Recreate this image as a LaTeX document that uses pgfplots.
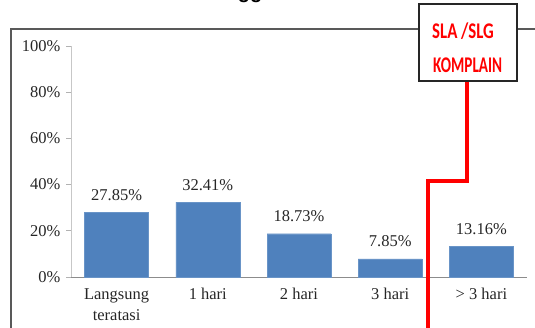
\documentclass[border=0pt]{standalone}
\usepackage{pgfplots}
\pgfplotsset{compat=1.18}
\usepackage{fontspec}
\setmainfont{Liberation Serif}
\newfontfamily\carlito{Carlito}
\newfontfamily\lsans{Liberation Sans}
\definecolor{barblue}{HTML}{4F81BD}
\definecolor{framegray}{HTML}{595959}
\definecolor{txt}{HTML}{262626}
\begin{document}
\begin{tikzpicture}[x=1pt,y=1pt]
\useasboundingbox (0,0) rectangle (535,-328);
\clip (0,0) rectangle (535,-328);
\node[anchor=base, font=\lsans\bfseries\fontsize{20}{24}\selectfont, inner sep=0] at (250,1) {gg};
\draw[color=framegray, line width=1.3pt] (11,-345) -- (11,-29) -- (550,-29);
\begin{axis}[
  at={(71pt,-277pt)}, anchor=south west, scale only axis,
  width=456pt, height=231pt,
  ymin=0, ymax=100, xmin=-0.5, xmax=4.5,
  ytick={0,20,...,100},
  yticklabel={\pgfmathprintnumber[assume math mode=true]{\tick}\%},
  xtick=data,
  xticklabels={{Langsung\\teratasi},1 hari,2 hari,3 hari,{> 3 hari}},
  axis x line*=bottom, axis y line*=left,
  x axis line style={draw=black!45, line width=0.8pt, -},
  y axis line style={draw=black!22, line width=0.8pt, -},
  xtick style={draw=none},
  ytick style={draw=black!30, line width=0.8pt},
  tick align=outside, major tick length=5pt,
  ticklabel style={font=\fontsize{16.5}{21}\selectfont, text=txt},
  xticklabel style={align=center, yshift=-3pt},
  yticklabel style={xshift=-2pt},
  ybar, bar width=64pt,
  clip=false,
  nodes near coords={\pgfmathprintnumber[fixed, fixed zerofill, precision=2, assume math mode=true]{\pgfplotspointmeta}\%},
  every node near coord/.append style={font=\fontsize{16.5}{18}\selectfont, text=txt, anchor=base, yshift=12pt},
]
\addplot[fill=barblue, draw=barblue!85!white] coordinates {(0,27.85) (1,32.41) (2,18.73) (3,7.85) (4,13.16)};
\end{axis}
\draw[red, line width=4pt] (467,-80) -- (467,-181) -- (428,-181) -- (428,-340);
\draw[black!85, line width=1.3pt, fill=white] (419,-4) rectangle (517,-81);
\node[anchor=base west, inner sep=0, text=red, font=\carlito\bfseries\fontsize{16}{18}\selectfont] at (432,-39) {\scalebox{1.05}[1.4]{SLA /SLG}};
\node[anchor=base west, inner sep=0, text=red, font=\carlito\bfseries\fontsize{16}{18}\selectfont] at (433,-73) {\scalebox{0.95}[1.4]{KOMPLAIN}};
\end{tikzpicture}
\end{document}
